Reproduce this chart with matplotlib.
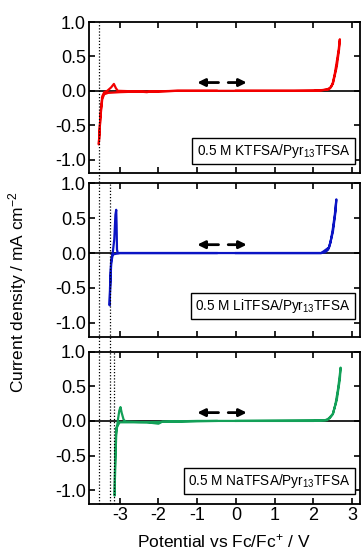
#!/usr/bin/env python
"""Linear sweep / cyclic voltammograms of 0.5 M MTFSA in Pyr13TFSA (M = K, Li, Na)."""
import matplotlib
matplotlib.use("Agg")
import matplotlib.pyplot as plt
from matplotlib import transforms
from matplotlib.lines import Line2D

plt.rcParams["font.family"] = ["Liberation Sans", "DejaVu Sans"]
plt.rcParams["mathtext.fontset"] = "custom"
plt.rcParams["mathtext.rm"] = "Liberation Sans"
plt.rcParams["mathtext.it"] = "Liberation Sans:italic"

# potential (V vs Fc/Fc+) and current density (mA cm-2)
k_E = [-0.5, -1.5, -2.0, -2.5, -3.0, -3.3, -3.4, -3.45, -3.5, -3.54,
       -3.52, -3.49, -3.45, -3.4, -3.32, -3.22, -3.15, -3.1, -3.05, -2.5,
       -2.3, -2.2, -1.5, 0.0, 1.5, 2.2, 2.35, 2.45, 2.5, 2.55, 2.6, 2.65, 2.68,
       2.66, 2.6, 2.5, 2.4, 2.0, 0.0]
k_j = [0.0, 0.0, -0.01, -0.01, -0.02, -0.03, -0.05, -0.12, -0.4, -0.78,
       -0.6, -0.3, -0.08, -0.02, 0.0, 0.05, 0.1, 0.04, 0.0, -0.01,
       -0.02, -0.01, 0.0, 0.0, 0.0, 0.005, 0.02, 0.05, 0.12, 0.25, 0.42, 0.6, 0.75,
       0.6, 0.35, 0.1, 0.02, 0.0, 0.0]

li_E = [-0.5, -1.5, -2.5, -3.0, -3.18, -3.22, -3.245, -3.26,
        -3.25, -3.22, -3.18, -3.14, -3.11, -3.09, -3.08, -3.07, -3.05,
        -2.5, -1.0, 0.5, 2.0, 2.2, 2.3, 2.38, 2.44, 2.5, 2.55, 2.59,
        2.57, 2.5, 2.4, 2.2, 0.0]
li_j = [0.0, 0.0, 0.0, 0.0, -0.02, -0.15, -0.5, -0.75,
        -0.5, -0.1, 0.0, 0.2, 0.55, 0.62, 0.4, 0.05, 0.0,
        0.0, 0.0, 0.0, 0.0, 0.0, 0.01, 0.05, 0.15, 0.35, 0.55, 0.77,
        0.6, 0.3, 0.08, 0.0, 0.0]

na_E = [-0.5, -1.5, -2.5, -2.9, -3.0, -3.09, -3.115, -3.13,
        -3.12, -3.09, -3.05, -3.01, -2.98, -2.95, -2.9, -2.85, -2.3,
        -2.0, -1.9, -1.0, 0.5, 2.0, 2.3, 2.42, 2.5, 2.57, 2.63, 2.67, 2.7,
        2.68, 2.6, 2.5, 2.35, 0.0]
na_j = [0.0, -0.01, -0.02, -0.02, -0.02, -0.1, -0.5, -1.08,
        -0.7, -0.2, 0.0, 0.15, 0.2, 0.12, 0.02, -0.01, -0.02,
        -0.04, -0.01, 0.0, 0.0, 0.0, 0.01, 0.04, 0.1, 0.25, 0.45, 0.62, 0.77,
        0.6, 0.3, 0.1, 0.01, 0.0]

series = [
    (k_E, k_j, "#f20000", "0.5 M KTFSA/Pyr$_{13}$TFSA"),
    (li_E, li_j, "#0b14c4", "0.5 M LiTFSA/Pyr$_{13}$TFSA"),
    (na_E, na_j, "#13a058", "0.5 M NaTFSA/Pyr$_{13}$TFSA"),
]
onsets = [-3.54, -3.26, -3.15]  # reduction limits for K, Li, Na
arrow_left = (-0.45, -1.0)
arrow_right = (-0.2, 0.28)
arrow_j = 0.12

fig = plt.figure(figsize=(3.61, 5.55), dpi=100)
boxes = [
    [0.2457, 0.6877, 0.7515, 0.2726],
    [0.2457, 0.3933, 0.7515, 0.2764],
    [0.2457, 0.0919, 0.7515, 0.2744],
]
axes = [fig.add_axes(b) for b in boxes]

for i, (ax, (E, j, color, label)) in enumerate(zip(axes, series)):
    ax.axhline(0, color="k", lw=1.2, zorder=1)
    ax.plot(E, j, color=color, lw=1.6, zorder=2)
    ax.set_xlim(-3.8, 3.2)
    ax.set_ylim(-1.2, 1.0)
    ax.set_xticks(range(-3, 4))
    ax.set_yticks([-1.0, -0.5, 0.0, 0.5, 1.0])
    ax.set_yticklabels(["-1.0", "-0.5", "0.0", "0.5", "1.0"])
    ax.tick_params(direction="in", top=True, right=True, length=4.5, width=1.2,
                   labelsize=13, pad=2)
    for s in ax.spines.values():
        s.set_linewidth(1.3)
    if i < 2:
        ax.tick_params(labelbottom=False)
    else:
        ax.set_xticklabels(["-3", "-2", "-1", "0", "1", "2", "3"])
        ax.set_xlabel("Potential vs Fc/Fc$^{+}$ / V", fontsize=12.5, labelpad=6)
    ax.text(0.965, 0.09 if i != 1 else 0.14, label, transform=ax.transAxes,
            ha="right", va="bottom", fontsize=9.8,
            bbox=dict(boxstyle="square,pad=0.3", fc="white", ec="k", lw=1.0))
    for tail, head in [(arrow_left[0], arrow_left[1]), (arrow_right[0], arrow_right[1])]:
        ax.annotate("", xy=(head, arrow_j), xytext=(tail, arrow_j),
                    arrowprops=dict(arrowstyle="-|>,head_width=0.22,head_length=0.45",
                                    lw=2.0, color="k", shrinkA=0, shrinkB=0))

# dotted onset lines run from the panel where they appear down to the bottom
bottom = boxes[2][1]
tr = transforms.blended_transform_factory(axes[2].transData, fig.transFigure)
for i, E0 in enumerate(onsets):
    top = boxes[i][1] + boxes[i][3]
    fig.add_artist(Line2D([E0, E0], [bottom, top], transform=tr, color="k",
                          lw=0.9, ls=(0, (1, 1.5)), zorder=5))

fig.text(0.05, 0.474, "Current density / mA cm$^{-2}$", rotation=90,
         ha="center", va="center", fontsize=12.5)

fig.savefig("out.png", dpi=100)
